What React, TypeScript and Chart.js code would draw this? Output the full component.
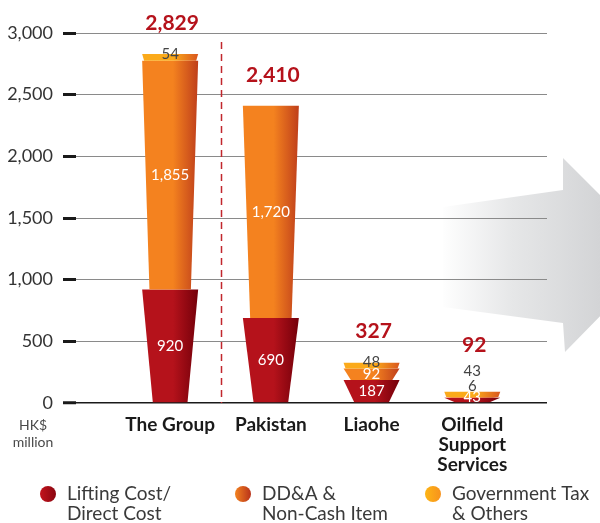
import React, { useEffect, useRef } from 'react';
import { Chart, registerables } from 'chart.js';

Chart.register(...registerables);

// ---------- data ----------
const categories: string[][] = [['The Group'], ['Pakistan'], ['Liaohe'], ['Oilfield', 'Support', 'Services']];
const liftingCost = [920, 690, 187, 43];
const ddaNonCash = [1855, 1720, 92, 6];
const govTax = [54, 0, 48, 43];
const totals = [2829, 2410, 327, 92];
const yTickValues = [0, 500, 1000, 1500, 2000, 2500, 3000];
const seriesNames: string[][] = [
  ['Lifting Cost/', 'Direct Cost'],
  ['DD&A &', 'Non-Cash Item'],
  ['Government Tax', '& Others'],
];
const unitLabel = ['HK$', 'million'];
const seriesValues = [liftingCost, ddaNonCash, govTax];

// ---------- styles ----------
const FONT = 'Lato, "Open Sans", sans-serif';
const seriesStyle = [
  { base: '#b5121b', dark: '#74000a', bottomRatio: 0.62, label: '#ffffff' },
  { base: '#f4821f', dark: '#bf3f1b', bottomRatio: 0.74, label: '#ffffff' },
  { base: '#fbaa1a', dark: '#d9561e', bottomRatio: 0.93, label: '#444444' },
];
const legendCircles = [
  { c0: '#c3141d', c1: '#8a0610' },
  { c0: '#f38320', c1: '#b8321a' },
  { c0: '#fdb515', c1: '#f7921d' },
];

const arrowPlugin = {
  id: 'bgArrow',
  beforeDraw(chart: any) {
    const ctx = chart.ctx;
    ctx.save();
    const g = ctx.createLinearGradient(440, 0, 600, 0);
    g.addColorStop(0, 'rgba(255,255,255,1)');
    g.addColorStop(0.45, '#e6e7e8');
    g.addColorStop(1, '#d3d4d6');
    ctx.fillStyle = g;
    ctx.beginPath();
    ctx.moveTo(443, 207);
    ctx.lineTo(563, 190);
    ctx.lineTo(563, 158);
    ctx.lineTo(660, 255);
    ctx.lineTo(565, 352);
    ctx.lineTo(563, 323);
    ctx.lineTo(443, 307);
    ctx.closePath();
    ctx.fill();
    ctx.restore();
  },
};

const barsPlugin = {
  id: 'coneBars',
  afterDatasetsDraw(chart: any) {
    const ctx = chart.ctx;
    ctx.save();
    chart.data.datasets.forEach((_ds: any, di: number) => {
      const meta = chart.getDatasetMeta(di);
      const st = seriesStyle[di];
      meta.data.forEach((bar: any, i: number) => {
        if (!(seriesValues[di][i] > 0)) return;
        const p = bar.getProps(['x', 'y', 'base', 'width'], true);
        const top = Math.min(p.y, p.base);
        const bottom = Math.max(p.y, p.base);
        const ht = p.width / 2;
        const hb = (p.width * st.bottomRatio) / 2;
        const g = ctx.createLinearGradient(p.x - ht, 0, p.x + ht, 0);
        g.addColorStop(0, st.base);
        g.addColorStop(0.55, st.base);
        g.addColorStop(1, st.dark);
        ctx.fillStyle = g;
        ctx.beginPath();
        ctx.moveTo(p.x - ht, top);
        ctx.lineTo(p.x + ht, top);
        ctx.lineTo(p.x + hb, bottom);
        ctx.lineTo(p.x - hb, bottom);
        ctx.closePath();
        ctx.fill();
      });
    });

    // dashed separator between first and second category
    const xs = chart.scales.x;
    const ca = chart.chartArea;
    const sx = Math.round(xs.getPixelForValue(0.5)) + 0.5;
    ctx.strokeStyle = '#c1272d';
    ctx.lineWidth = 1.5;
    ctx.setLineDash([7, 5]);
    ctx.beginPath();
    ctx.moveTo(sx, ca.top + 9);
    ctx.lineTo(sx, ca.bottom);
    ctx.stroke();
    ctx.setLineDash([]);

    // segment & total labels
    ctx.textAlign = 'center';
    ctx.textBaseline = 'middle';
    for (let i = 0; i < categories.length; i++) {
      const segs = chart.data.datasets
        .map((_d: any, di: number) => {
          const p = chart.getDatasetMeta(di).data[i].getProps(['x', 'y', 'base'], true);
          return { di, value: seriesValues[di][i], x: p.x, top: Math.min(p.y, p.base), bottom: Math.max(p.y, p.base) };
        })
        .filter((s: any) => s.value > 0);
      if (!segs.length) continue;
      const x = segs[0].x;
      const barTop = Math.min(...segs.map((s: any) => s.top));
      const barBottom = Math.max(...segs.map((s: any) => s.bottom));
      const small = barBottom - barTop < 20;
      ctx.font = `15px ${FONT}`;
      let totalY: number;
      if (small) {
        const offs = [5, 16, 31];
        segs.forEach((s: any, k: number) => {
          ctx.fillStyle = k === 0 ? '#ffffff' : '#444444';
          ctx.fillText(s.value.toLocaleString('en-US'), x, barBottom - offs[k]);
        });
        totalY = barBottom - 57;
      } else {
        segs.forEach((s: any) => {
          let cy = (s.top + s.bottom) / 2;
          if (s.di === 2) cy -= 3;
          ctx.fillStyle = seriesStyle[s.di].label;
          ctx.fillText(s.value.toLocaleString('en-US'), x, cy);
        });
        totalY = barTop - 31;
      }
      ctx.font = `bold 21px ${FONT}`;
      ctx.fillStyle = '#b5121b';
      ctx.fillText(totals[i].toLocaleString('en-US'), x + 2, totalY);
    }
    ctx.restore();
  },
};

const extrasPlugin = {
  id: 'extras',
  afterDraw(chart: any) {
    const ctx = chart.ctx;
    ctx.save();
    // unit label
    ctx.textAlign = 'center';
    ctx.textBaseline = 'middle';
    ctx.fillStyle = '#4a4a4a';
    ctx.font = `14px ${FONT}`;
    ctx.fillText(unitLabel[0], 33, 425);
    ctx.fillText(unitLabel[1], 33, 442);
    // legend
    const circleX = [48, 243, 433];
    const cy = 494;
    seriesNames.forEach((lines, k) => {
      const cx = circleX[k];
      const g = ctx.createLinearGradient(cx - 8, 0, cx + 8, 0);
      g.addColorStop(0, legendCircles[k].c0);
      g.addColorStop(1, legendCircles[k].c1);
      ctx.fillStyle = g;
      ctx.beginPath();
      ctx.arc(cx, cy, 8, 0, Math.PI * 2);
      ctx.fill();
      ctx.fillStyle = '#3a3a3a';
      ctx.font = `19px ${FONT}`;
      ctx.textAlign = 'left';
      lines.forEach((t, li) => ctx.fillText(t, cx + 19, cy + li * 19.5));
    });
    ctx.restore();
  },
};

export default function App() {
  const ref = useRef<HTMLCanvasElement>(null);
  useEffect(() => {
    if (!ref.current) return;
    const mk = (vals: number[], di: number) => ({
      label: seriesNames[di].join(' '),
      data: vals.map((v, i) => ({ x: i, y: v })),
      backgroundColor: 'rgba(0,0,0,0)',
      borderWidth: 0,
      grouped: false,
      barThickness: 56,
    });
    const chart = new Chart(ref.current, {
      type: 'bar',
      data: {
        datasets: [mk(liftingCost, 0), mk(ddaNonCash, 1), mk(govTax, 2)] as any,
      },
      options: {
        animation: false,
        responsive: false,
        layout: { padding: { top: 33, right: 53, left: 0, bottom: 0 } },
        plugins: { legend: { display: false }, tooltip: { enabled: false } },
        scales: {
          x: {
            type: 'linear',
            min: -0.935,
            max: 3.742,
            offset: false,
            grid: { display: false, drawTicks: false },
            border: { display: false },
            ticks: {
              stepSize: 1,
              includeBounds: false,
              autoSkip: false,
              maxRotation: 0,
              padding: 12,
              color: '#1a1a1a',
              font: { family: FONT, weight: 'bold', size: 19, lineHeight: 1.05 },
              callback: (v: any) => categories[v as number] ?? '',
            },
            afterFit: (s: any) => {
              s.height = 120;
            },
          } as any,
          y: {
            stacked: true,
            min: 0,
            max: 3000,
            afterBuildTicks: (s: any) => {
              s.ticks = yTickValues.map((v) => ({ value: v }));
            },
            ticks: {
              padding: 10,
              color: '#333333',
              font: { family: FONT, size: 18 },
              callback: (v: any) => Number(v).toLocaleString('en-US'),
            },
            grid: {
              color: (c: any) => (c.tick && c.tick.value === 0 ? '#1a1a1a' : '#8a8a8a'),
              lineWidth: (c: any) => (c.tick && c.tick.value === 0 ? 1.5 : 1),
              drawTicks: true,
              tickLength: 13,
              tickColor: '#1a1a1a',
              tickWidth: 3,
            },
            border: { display: false },
            afterFit: (s: any) => {
              s.width = 76;
            },
          } as any,
        },
      },
      plugins: [arrowPlugin, barsPlugin, extrasPlugin],
    });
    return () => chart.destroy();
  }, []);
  return (
    <div style={{ position: 'fixed', left: 0, top: 0, width: 600, height: 523, background: '#fff' }}>
      <canvas ref={ref} width={600} height={523} style={{ display: 'block', width: 600, height: 523 }} />
    </div>
  );
}
